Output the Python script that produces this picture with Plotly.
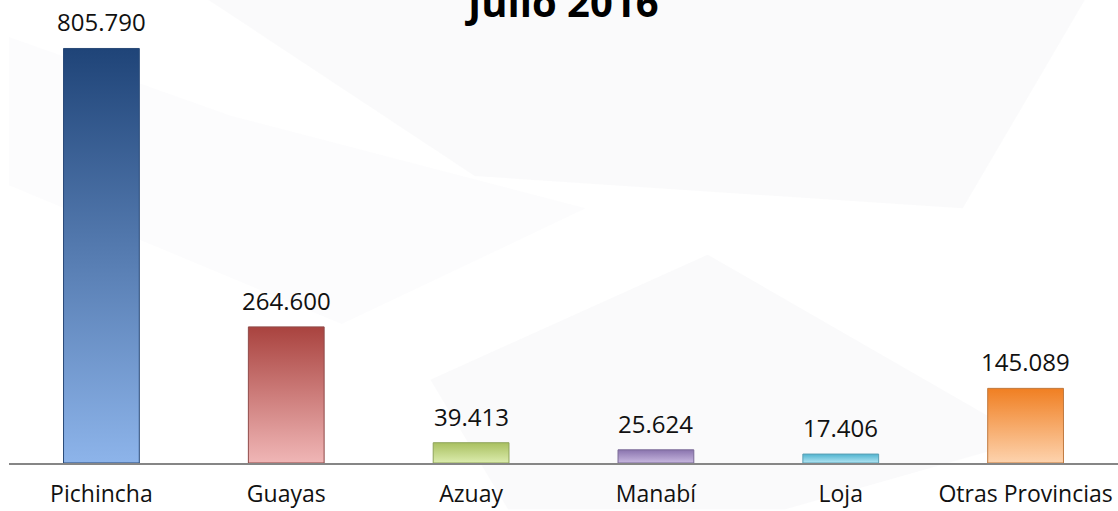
import plotly.graph_objects as go

# Data
provincias = ["Pichincha", "Guayas", "Azuay", "Manabí", "Loja", "Otras Provincias"]
valores = [805790, 264600, 39413, 25624, 17406, 145089]

# top / bottom colours of each bar's gradient
color_top = ["#1f4478", "#a9433f", "#a9c060", "#8a74ae", "#4fb3cf", "#f07f22"]
color_bottom = ["#8db4ea", "#f0b6b6", "#dcecae", "#c8b8e0", "#b4e6f4", "#fdd3ae"]
color_line = ["#2a4a78", "#8f4a48", "#8ea35a", "#7a6a96", "#5b9fb3", "#c07a40"]

bar_w = 0.41
font = "Open Sans, Calibri, sans-serif"

fig = go.Figure()

# faint watermark shapes in the background
bg = "rgba(236,236,240,0.25)"
fig.add_shape(type="path", xref="paper", yref="paper", layer="below",
              path="M 0.18 1 L 0.97 1 L 0.86 0.55 L 0.42 0.62 Z",
              fillcolor=bg, line_width=0)
fig.add_shape(type="path", xref="paper", yref="paper", layer="below",
              path="M 0.38 0.18 L 0.63 0.45 L 0.92 0.05 L 0.70 -0.1 L 0.45 -0.1 Z",
              fillcolor=bg, line_width=0)
fig.add_shape(type="path", xref="paper", yref="paper", layer="below",
              path="M 0.0 0.92 L 0.2 0.75 L 0.52 0.55 L 0.3 0.3 L 0.0 0.6 Z",
              fillcolor="rgba(240,240,243,0.2)", line_width=0)

for i, v in enumerate(valores):
    x0, x1 = i - bar_w / 2, i + bar_w / 2
    fig.add_trace(go.Scatter(
        x=[x0, x0, x1, x1, x0], y=[0, v, v, 0, 0],
        mode="lines", fill="toself",
        line=dict(color=color_line[i], width=1),
        fillgradient=dict(type="vertical",
                          colorscale=[[0, color_bottom[i]], [1, color_top[i]]]),
        hoverinfo="skip", showlegend=False,
    ))
    fig.add_annotation(
        x=i, y=v, text=f"{v:,}".replace(",", "."),
        showarrow=False, yanchor="bottom", yshift=8,
        font=dict(family=font, size=24, color="#111111"),
    )

fig.add_annotation(
    x=0.5, xref="paper", y=1, yref="paper", xshift=-2,
    text="<b>Julio 2016</b>", showarrow=False, yanchor="middle", yshift=-1,
    font=dict(family=font, size=40, color="#000000"),
)

fig.update_layout(
    width=1118, height=511,
    margin=dict(l=9, r=0, t=0, b=48),
    plot_bgcolor="white", paper_bgcolor="white",
    showlegend=False,
    font=dict(family=font, size=24, color="#111111"),
)
fig.update_xaxes(
    range=[-0.5, 5.5], tickvals=list(range(len(provincias))), ticktext=provincias,
    showgrid=False, zeroline=False, showline=True, linecolor="#868686", linewidth=2,
    ticks="", ticklabelstandoff=9, automargin=False,
    tickfont=dict(family=font, size=23, color="#111111"),
)
fig.update_yaxes(range=[0, 900000], visible=False)

fig.write_html("out.html", config={"displayModeBar": False},
               post_script="document.body.style.margin='0';")
